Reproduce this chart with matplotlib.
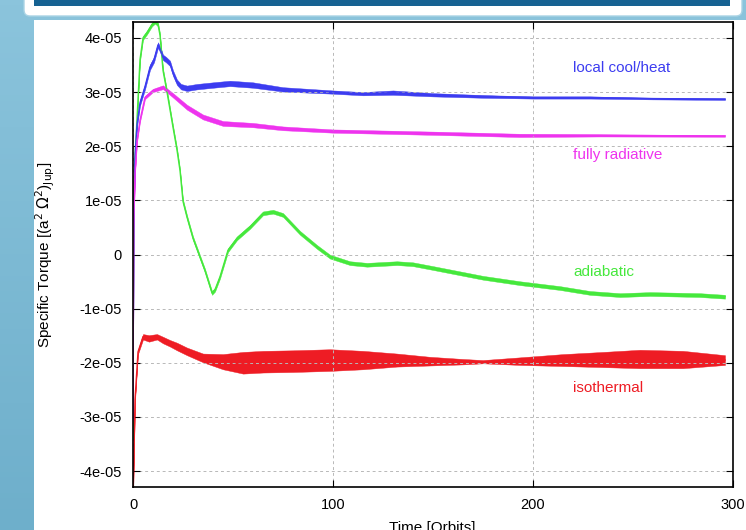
import matplotlib
matplotlib.use("Agg")
import matplotlib.pyplot as plt
import numpy as np
from matplotlib.patches import Rectangle, FancyBboxPatch
from matplotlib.ticker import FuncFormatter

plt.rcParams["font.family"] = ["Liberation Sans", "DejaVu Sans"]

# values in units of 1e-05
# isothermal: centre of the noisy band and its half-width
iso_t = [0, 1, 2.5, 5, 8, 12, 15, 18.5, 22, 27, 35, 45, 55, 65, 80, 98.5, 115, 132, 148.5, 165, 175, 193.5, 215, 235, 253.5, 275, 296]
iso_v = [-4.5, -2.68, -1.8, -1.52, -1.55, -1.52, -1.58, -1.64, -1.7, -1.79, -1.91, -1.98, -2.0, -1.98, -1.97, -1.95, -1.95, -1.95, -1.97, -1.98, -1.98, -1.97, -1.95, -1.94, -1.93, -1.94, -1.95]
iso_w = [0.02, 0.03, 0.04, 0.05, 0.06, 0.05, 0.06, 0.06, 0.07, 0.07, 0.08, 0.14, 0.2, 0.2, 0.2, 0.2, 0.17, 0.12, 0.08, 0.05, 0.03, 0.07, 0.11, 0.14, 0.17, 0.16, 0.09]

adi_t = [0, 0.3, 1, 2, 3.5, 5, 7, 9.5, 11, 12.5, 13.5, 15, 17, 20, 22, 23.5, 25, 27, 30, 33.5, 36, 39.5, 41, 43.5, 47.5, 52, 58.5, 65, 70, 75, 83.5, 92, 98.5, 108.5, 117, 132, 140, 150, 175, 193.5, 213.5, 228.5, 243.5, 258.5, 283.5, 296]
adi_v = [-3.4, 1.2, 1.8, 2.5, 3.6, 4.0, 4.1, 4.25, 4.3, 4.25, 4.05, 3.4, 3.0, 2.35, 1.93, 1.55, 0.98, 0.69, 0.3, -0.05, -0.3, -0.71, -0.65, -0.41, 0.08, 0.3, 0.51, 0.76, 0.79, 0.73, 0.4, 0.14, -0.04, -0.16, -0.19, -0.16, -0.18, -0.25, -0.43, -0.53, -0.62, -0.71, -0.75, -0.73, -0.75, -0.78]
adi_w = 0.035

loc_t = [0, 0.3, 1, 2, 3.5, 6, 8.5, 10.5, 12.5, 14, 15, 16.5, 18.5, 20, 22, 24, 27, 32, 40, 48.5, 60, 75, 100, 115, 130, 150, 175, 200, 228.5, 260, 296]
loc_v = [-3.05, 0.5, 1.8, 2.4, 2.8, 3.1, 3.46, 3.6, 3.87, 3.75, 3.64, 3.6, 3.53, 3.35, 3.18, 3.1, 3.07, 3.1, 3.13, 3.16, 3.13, 3.05, 3.0, 2.97, 2.99, 2.95, 2.92, 2.9, 2.9, 2.88, 2.87]
loc_w = [0.01, 0.02, 0.03, 0.04, 0.05, 0.05, 0.05, 0.05, 0.05, 0.05, 0.05, 0.05, 0.05, 0.05, 0.05, 0.05, 0.05, 0.05, 0.05, 0.05, 0.05, 0.04, 0.03, 0.03, 0.04, 0.03, 0.025, 0.02, 0.02, 0.015, 0.015]

rad_t = [0, 0.3, 1, 2, 3.5, 6, 10, 15, 20, 27, 35, 45, 60, 75, 100, 150, 193.5, 233.5, 296]
rad_v = [-3.05, 0.5, 1.5, 2.1, 2.48, 2.9, 3.03, 3.09, 2.94, 2.72, 2.54, 2.42, 2.39, 2.33, 2.28, 2.24, 2.2, 2.2, 2.19]
rad_w = [0.01, 0.02, 0.03, 0.03, 0.03, 0.03, 0.03, 0.035, 0.04, 0.045, 0.045, 0.045, 0.04, 0.035, 0.03, 0.03, 0.03, 0.02, 0.015]

series = [
    ("isothermal", iso_t, iso_v, iso_w, "#ee1c24", -2.46),
    ("adiabatic", adi_t, adi_v, adi_w, "#45e83c", -0.32),
    ("local cool/heat", loc_t, loc_v, loc_w, "#3c3cf0", 3.44),
    ("fully radiative", rad_t, rad_v, rad_w, "#ee33ee", 1.84),
]

W, H = 746, 530
fig = plt.figure(figsize=(W / 100, H / 100), dpi=100)

# slide background
bg = fig.add_axes([0, 0, 1, 1])
bg.set_xlim(0, W)
bg.set_ylim(H, 0)
bg.axis("off")
grad = np.linspace(0, 1, 100).reshape(-1, 1)
bg.imshow(grad, extent=[0, W, H, 0], aspect="auto",
          cmap=matplotlib.colors.LinearSegmentedColormap.from_list("b", ["#8bc4dc", "#6eafcb"]))
bg.add_patch(Rectangle((34, 20), W - 34, H - 20, facecolor="white", edgecolor="none"))
bg.add_patch(FancyBboxPatch((24, -10), 718, 26, boxstyle="round,pad=0,rounding_size=6",
                            facecolor="white", edgecolor="#a9d3e4", linewidth=1))
bg.add_patch(Rectangle((34, 0), 696, 6, facecolor="#166292", edgecolor="none"))

ax = fig.add_axes([133 / W, 1 - 487.3 / H, 600 / W, (487.3 - 21.7) / H])
ax.set_facecolor("white")
for name, t, v, w, color, ly in series:
    t = np.array(t)
    v = np.array(v) * 1e-5
    w = np.array(w) * 1e-5 if np.ndim(w) else w * 1e-5
    ax.fill_between(t, v - w, v + w, color=color, linewidth=0.3, edgecolor=color)
    ax.plot(t, v, color=color, linewidth=1.0)
    ax.text(220, ly * 1e-5, name, color=color, fontsize=11, ha="left", va="center")

ax.set_xlim(0, 300)
ax.set_ylim(-4.3e-5, 4.3e-5)
ax.set_xticks([0, 100, 200, 300])
ax.set_yticks(np.arange(-4, 5) * 1e-5)
ax.yaxis.set_major_formatter(FuncFormatter(lambda y, p: "0" if abs(y) < 1e-9 else f"{y:.0e}"))
ax.tick_params(direction="in", length=5, width=0.8, top=True, right=True,
               labelsize=10.5, pad=8)
ax.grid(True, linestyle=(0, (3, 3)), color="#b8b8b8", linewidth=0.7)
for s in ax.spines.values():
    s.set_linewidth(1.2)

fig.text(45 / W, 1 - 255 / H, r"Specific Torque [(a$^2$ $\Omega^2$)$_{\mathrm{Jup}}$]",
         rotation=90, ha="center", va="center", fontsize=11)
fig.text(432 / W, 1 - 521 / H, "Time [Orbits]", ha="center", va="top", fontsize=11)

fig.savefig("out.png", dpi=100)
